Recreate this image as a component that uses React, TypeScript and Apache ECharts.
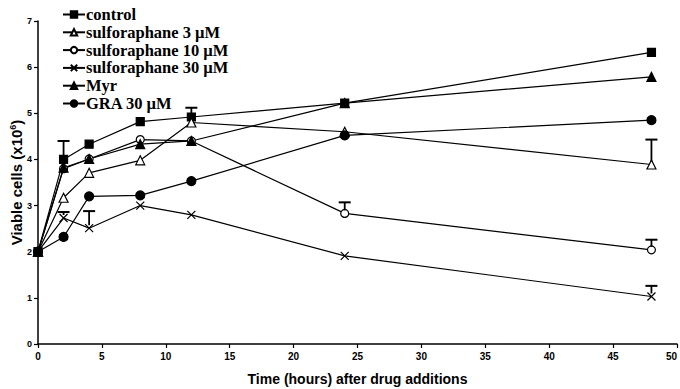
import React, { useEffect, useRef } from "react";
import * as echarts from "echarts";

const times = [0, 2, 4, 8, 12, 24, 48];
const seriesNames = [
  "control",
  "sulforaphane 3 µM",
  "sulforaphane 10 µM",
  "sulforaphane 30 µM",
  "Myr",
  "GRA 30 µM",
];
const control = [2.0, 4.0, 4.33, 4.82, 4.92, 5.22, 6.32];
const sulf3 = [2.0, 3.17, 3.71, 3.98, 4.8, 4.6, 3.89];
const sulf10 = [2.0, 3.8, 4.01, 4.43, 4.4, 2.83, 2.04];
const sulf30 = [2.0, 2.73, 2.51, 3.0, 2.8, 1.91, 1.03];
const myr = [2.0, 3.82, 4.01, 4.33, 4.4, 5.22, 5.79];
const gra = [2.0, 2.32, 3.2, 3.22, 3.53, 4.52, 4.85];

// error bars: [time, value, upper]
const errorBars = [
  [2, 4.0, 4.4],
  [12, 4.92, 5.12],
  [48, 3.89, 4.43],
  [24, 2.83, 3.07],
  [48, 2.04, 2.26],
  [2, 2.73, 2.86],
  [4, 2.51, 2.88],
  [48, 1.03, 1.26],
];

const xTicks = [0, 5, 10, 15, 20, 25, 30, 35, 40, 45, 50];
const yTicks = [0, 1, 2, 3, 4, 5, 6, 7];

const X_SYMBOL = "path://M0,0L10,10M10,0L0,10";

export default function App() {
  const ref = useRef<HTMLDivElement>(null);
  useEffect(() => {
    if (!ref.current) return;
    const chart = echarts.init(ref.current, null, { renderer: "svg" });
    const mk = (
      name: string,
      vals: number[],
      symbol: string,
      size: number,
      fill: string
    ) => ({
      name,
      type: "line",
      data: times.map((t, i) => [t, vals[i]]),
      symbol,
      symbolSize: size,
      showAllSymbol: true,
      lineStyle: { color: "#000", width: 1.2 },
      itemStyle: { color: fill, borderColor: "#000", borderWidth: 1.2 },
      z: 3,
    });
    chart.setOption({
      animation: false,
      backgroundColor: "#fff",
      grid: {
        left: 38,
        right: 3,
        top: 21,
        bottom: 45,
        containLabel: false,
        outerBoundsMode: "none",
      },
      legend: {
        data: seriesNames,
        orient: "vertical",
        left: 62,
        top: 6,
        padding: 0,
        itemGap: 0.8,
        itemWidth: 22,
        itemHeight: 8,
        textStyle: {
          fontFamily: "Liberation Serif",
          fontWeight: "bold",
          fontSize: 16.5,
          lineHeight: 16,
          color: "#000",
          padding: [0, 0, 0, -4],
        },
      },
      xAxis: {
        type: "value",
        min: xTicks[0],
        max: xTicks[xTicks.length - 1],
        interval: 5,
        name: "Time (hours) after drug additions",
        nameLocation: "middle",
        nameGap: 28,
        nameMoveOverlap: false,
        nameTextStyle: {
          fontFamily: "Liberation Sans",
          fontWeight: "bold",
          fontSize: 14,
          color: "#000",
        },
        axisLine: { lineStyle: { color: "#000", width: 1.5 } },
        axisTick: { show: true, length: 4, lineStyle: { color: "#000", width: 1.2 } },
        axisLabel: {
          fontFamily: "Liberation Sans",
          fontWeight: "bold",
          fontSize: 10,
          color: "#000",
          margin: 7,
          alignMaxLabel: "right",
        },
        splitLine: { show: false },
      },
      yAxis: {
        type: "value",
        min: yTicks[0],
        max: yTicks[yTicks.length - 1],
        interval: 1,
        name: "{a|Viable cells (x10}{s|6}{a|)}",
        nameLocation: "middle",
        nameGap: 13,
        nameMoveOverlap: false,
        nameRotate: 90,
        nameTextStyle: {
          rich: {
            a: {
              fontFamily: "Liberation Sans",
              fontWeight: "bold",
              fontSize: 15,
              color: "#000",
            },
            s: {
              fontFamily: "Liberation Sans",
              fontWeight: "bold",
              fontSize: 9,
              color: "#000",
              verticalAlign: "top",
              padding: [0, 0, 8, 0],
            },
          },
        },
        axisLine: { show: true, lineStyle: { color: "#000", width: 1.5 } },
        axisTick: { show: true, length: 4, lineStyle: { color: "#000", width: 1.2 } },
        axisLabel: {
          fontFamily: "Liberation Sans",
          fontWeight: "bold",
          fontSize: 9,
          color: "#000",
          margin: 6,
        },
        splitLine: { show: false },
      },
      series: [
        mk(seriesNames[0], control, "rect", 8, "#000"),
        mk(seriesNames[1], sulf3, "triangle", 9, "#fff"),
        mk(seriesNames[2], sulf10, "circle", 8, "#fff"),
        mk(seriesNames[3], sulf30, X_SYMBOL, 8, "none"),
        mk(seriesNames[4], myr, "triangle", 9, "#000"),
        mk(seriesNames[5], gra, "circle", 9, "#000"),
        {
          name: "err",
          type: "custom",
          data: errorBars,
          z: 4,
          renderItem: (params: any, api: any) => {
            const x = api.value(0);
            const lo = api.coord([x, api.value(1)]);
            const hi = api.coord([x, api.value(2)]);
            const w = 6;
            return {
              type: "group",
              children: [
                {
                  type: "line",
                  shape: { x1: lo[0], y1: lo[1] - 3, x2: hi[0], y2: hi[1] },
                  style: { stroke: "#000", lineWidth: 1.8 },
                },
                {
                  type: "line",
                  shape: { x1: hi[0] - w, y1: hi[1], x2: hi[0] + w, y2: hi[1] },
                  style: { stroke: "#000", lineWidth: 2 },
                },
              ],
            };
          },
        },
      ],
    });
    return () => chart.dispose();
  }, []);
  return (
    <div
      ref={ref}
      style={{ position: "fixed", left: 0, top: 0, width: 680, height: 389 }}
    />
  );
}
